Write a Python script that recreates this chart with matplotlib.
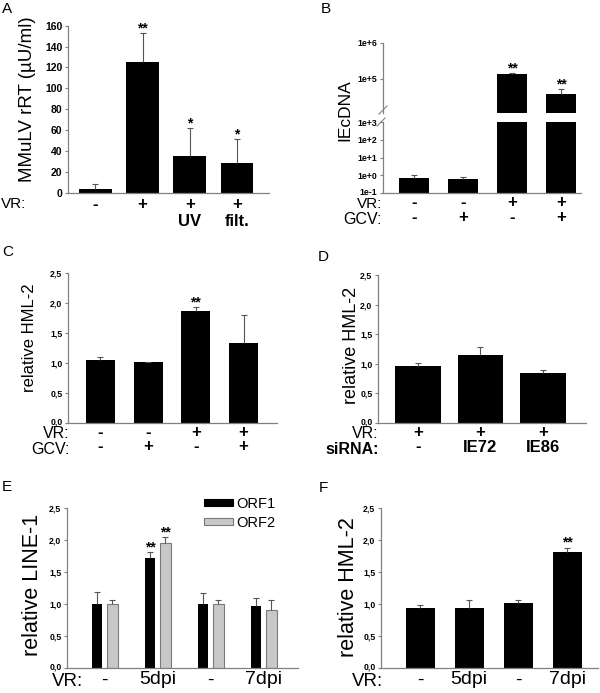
import matplotlib
matplotlib.use('Agg')
import matplotlib.pyplot as plt
import matplotlib.transforms as mtransforms
from matplotlib.patches import Patch
from matplotlib.ticker import NullLocator
import numpy as np

plt.rcParams['font.family'] = ['Liberation Sans', 'DejaVu Sans']

# ---------------- data ----------------
# Panel A
a_vals = [4, 125, 35, 28]
a_top = [8, 153, 62, 51]
a_sig = ['', '**', '*', '*']
a_vr = ['-', '+', '+', '+']
a_trt = ['', '', 'UV', 'filt.']
a_ticks = [0, 20, 40, 60, 80, 100, 120, 140, 160]

# Panel B
b_vals = [0.72, 0.6, 1.4e5, 3.8e4]
b_top = [1.0, 0.82, 1.45e5, 5.2e4]
b_sig = ['', '', '**', '**']
b_vr = ['-', '-', '+', '+']
b_gcv = ['-', '+', '-', '+']
b_ticks_low = [0.1, 1, 10, 100, 1000]
b_labels_low = ['1e-1', '1e+0', '1e+1', '1e+2', '1e+3']
b_ticks_up = [1e5, 1e6]
b_labels_up = ['1e+5', '1e+6']

# Panel C
c_vals = [1.04, 1.02, 1.87, 1.33]
c_top = [1.09, 1.02, 1.93, 1.79]
c_sig = ['', '', '**', '']
c_vr = ['-', '-', '+', '+']
c_gcv = ['-', '+', '-', '+']

# Panel D
d_vals = [0.96, 1.15, 0.84]
d_top = [1.02, 1.28, 0.89]
d_vr = ['+', '+', '+']
d_si = ['-', 'IE72', 'IE86']

# Panel E
e_orf1 = [1.0, 1.72, 1.0, 0.97]
e_orf1_top = [1.18, 1.81, 1.17, 1.10]
e_orf2 = [1.0, 1.96, 1.0, 0.91]
e_orf2_top = [1.07, 2.04, 1.07, 1.06]
e_sig1 = ['', '**', '', '']
e_sig2 = ['', '**', '', '']
e_vr = ['-', '5dpi', '-', '7dpi']
e_series = ['ORF1', 'ORF2']

# Panel F
f_vals = [0.94, 0.94, 1.01, 1.82]
f_top = [0.99, 1.06, 1.06, 1.88]
f_sig = ['', '', '', '**']
f_vr = ['-', '5dpi', '-', '7dpi']

rel_ticks = [0.0, 0.5, 1.0, 1.5, 2.0, 2.5]
rel_labels = ['0,0', '0,5', '1,0', '1,5', '2,0', '2,5']

# ---------------- layout helpers ----------------
W, H = 600, 693
fig = plt.figure(figsize=(6, 6.93), dpi=100)

def add_ax(l, t, r, b):
    return fig.add_axes([l / W, 1 - b / H, (r - l) / W, (b - t) / H])

def fy(ypx):
    return 1 - ypx / H

def fx(xpx):
    return xpx / W

SPINE = '#808080'
ECOL = '#555555'

def style(ax):
    for s in ['top', 'right']:
        ax.spines[s].set_visible(False)
    for s in ['left', 'bottom']:
        ax.spines[s].set_color(SPINE)
        ax.spines[s].set_linewidth(0.9)
    ax.set_xticks([])
    ax.tick_params(axis='y', length=2.5, width=0.8, color=SPINE, pad=1.5)

def lift_first_label(ax, px=2.0):
    lab = ax.get_yticklabels()[0]
    lab.set_transform(lab.get_transform() +
                      mtransforms.ScaledTranslation(0, px / 100, fig.dpi_scale_trans))

def bars(ax, x, vals, tops, width, color='black', edge='none', capw=5, bottom=0):
    vals = np.asarray(vals, float)
    tops = np.asarray(tops, float)
    ax.bar(x, vals - bottom, width, bottom=bottom, color=color, edgecolor=edge,
           linewidth=0.8, zorder=2)
    ax.vlines(x, vals, tops, color=ECOL, lw=0.8, zorder=3)
    ax.plot(x, tops, ls='none', marker='_', ms=capw, mew=0.8, color=ECOL, zorder=3)

def stars(ax, x, tops, sig, size=10):
    for xi, t, s in zip(x, tops, sig):
        if s:
            ax.annotate(s, (xi, t), xytext=(0, -1.5), textcoords='offset points',
                        ha='center', va='bottom', fontsize=size, fontweight='bold')

def row(ax, labels, ypx, size, weight='normal'):
    tr = mtransforms.blended_transform_factory(ax.transData, fig.transFigure)
    for xi, lab in enumerate(labels):
        ax.text(xi, fy(ypx), lab, transform=tr, ha='center', va='center',
                fontsize=size, fontweight=weight)

def rowtitle(text, xr, ypx, size, weight='normal'):
    fig.text(fx(xr), fy(ypx), text, ha='right', va='center', fontsize=size,
             fontweight=weight)

def letter(text, xpx, ypx):
    fig.text(fx(xpx), fy(ypx), text, ha='left', va='center', fontsize=11)

def ylab(text, xpx, ypx, size):
    fig.text(fx(xpx), fy(ypx), text, rotation=90, ha='center', va='center',
             fontsize=size)

# ---------------- Panel A ----------------
axA = add_ax(68, 25.7, 269, 192.7)
style(axA)
xa = np.arange(len(a_vals))
bars(axA, xa, a_vals, a_top, 0.69)
stars(axA, xa, a_top, a_sig)
axA.set_xlim(-0.58, 3.68)
axA.set_ylim(0, 160)
axA.set_yticks(a_ticks, [str(t) for t in a_ticks], fontsize=7.5, fontweight='bold')
ylab('MMuLV rRT (µU/ml)', 28, 99, 13.5)
row(axA, a_vr, 204, 12, 'bold')
row(axA, a_trt, 221, 12, 'bold')
rowtitle('VR:', 26, 204, 11)
letter('A', 2, 9)

# ---------------- Panel B (broken log axis) ----------------
axBu = add_ax(383, 42.7, 581, 113.3)
axBl = add_ax(383, 122.3, 581, 193)
xb = np.arange(len(b_vals))
for ax in (axBu, axBl):
    style(ax)
    ax.set_yscale('log')
    bars(ax, xb, b_vals, b_top, 0.61, bottom=1e-3)
    ax.set_xlim(-0.63, 3.41)
    ax.yaxis.set_minor_locator(NullLocator())
axBu.set_ylim(10 ** 4.055, 1e6)
axBl.set_ylim(0.1, 1000)
axBu.spines['bottom'].set_visible(False)
axBu.set_yticks(b_ticks_up, b_labels_up, fontsize=6.3, fontweight='bold')
axBl.set_yticks(b_ticks_low, b_labels_low, fontsize=6.3, fontweight='bold')
lift_first_label(axBl, 2.0)
stars(axBu, xb, b_top, b_sig)
ylab('IEcDNA', 345, 110, 12.5)
for (x0, y0, x1, y1) in [(379, 114, 387, 106), (377, 126, 385, 118)]:
    fig.add_artist(plt.Line2D([fx(x0), fx(x1)], [fy(y0), fy(y1)], color=SPINE, lw=0.8))
row(axBl, b_vr, 202, 12, 'bold')
row(axBl, b_gcv, 218, 12, 'bold')
rowtitle('VR:', 382, 204, 11)
rowtitle('GCV:', 382, 219, 11.5)
letter('B', 321, 9)

# ---------------- Panel C ----------------
axC = add_ax(68, 272.7, 277, 422.7)
style(axC)
xc = np.arange(len(c_vals))
bars(axC, xc, c_vals, c_top, 0.61)
stars(axC, xc, c_top, c_sig)
axC.set_xlim(-0.68, 3.70)
axC.set_ylim(0, 2.5)
axC.set_yticks(rel_ticks, rel_labels, fontsize=6.3, fontweight='bold')
lift_first_label(axC, 2.0)
ylab('relative HML-2', 30, 338, 12)
row(axC, c_vr, 432, 12, 'bold')
row(axC, c_gcv, 447, 12, 'bold')
rowtitle('VR:', 70, 434, 11.5)
rowtitle('GCV:', 70, 449, 11.5)
letter('C', 2, 252)

# ---------------- Panel D ----------------
axD = add_ax(378, 275, 586, 423)
style(axD)
xd = np.arange(len(d_vals))
bars(axD, xd, d_vals, d_top, 0.73)
axD.set_xlim(-0.64, 2.69)
axD.set_ylim(0, 2.5)
axD.set_yticks(rel_ticks, rel_labels, fontsize=6.3, fontweight='bold')
lift_first_label(axD, 2.0)
ylab('relative HML-2', 351, 345, 13)
row(axD, d_vr, 432, 12, 'bold')
row(axD, d_si, 447, 12, 'bold')
rowtitle('VR:', 379, 434, 11.5)
rowtitle('siRNA:', 379, 449, 11.5, 'bold')
letter('D', 318, 257)

# ---------------- Panel E ----------------
axE = add_ax(67, 508, 298, 668)
style(axE)
xe = np.arange(len(e_orf1))
off = 0.145
bars(axE, xe - off, e_orf1, e_orf1_top, 0.2, capw=4)
bars(axE, xe + off, e_orf2, e_orf2_top, 0.2, color='#c8c8c8', edge='#7a7a7a', capw=4)
stars(axE, xe - off, e_orf1_top, e_sig1)
stars(axE, xe + off, e_orf2_top, e_sig2)
axE.set_xlim(-0.71, 3.65)
axE.set_ylim(0, 2.5)
axE.set_yticks(rel_ticks, rel_labels, fontsize=6.3, fontweight='bold')
lift_first_label(axE, 2.0)
ylab('relative LINE-1', 32, 585, 15.5)
axE.legend(handles=[Patch(facecolor='black', edgecolor='black', lw=0.8),
                    Patch(facecolor='#c8c8c8', edgecolor='#7a7a7a', lw=0.8)],
           labels=e_series, loc='upper left', bbox_to_anchor=(fx(201), fy(494)),
           bbox_transform=fig.transFigure, frameon=False, fontsize=10.5,
           handlelength=2.0, handleheight=0.4, handletextpad=0.2,
           labelspacing=0.35, borderpad=0.2, borderaxespad=0)
row(axE, e_vr, 680, 14)
rowtitle('VR:', 83, 681.5, 13.5)
letter('E', 2, 487)

# ---------------- Panel F ----------------
axF = add_ax(381, 508, 598, 668)
style(axF)
xf = np.arange(len(f_vals))
bars(axF, xf, f_vals, f_top, 0.59)
stars(axF, xf, f_top, f_sig)
axF.set_xlim(-0.8, 3.63)
axF.set_ylim(0, 2.5)
axF.set_yticks(rel_ticks, rel_labels, fontsize=6.3, fontweight='bold')
lift_first_label(axF, 2.0)
ylab('relative HML-2', 348, 587, 15.5)
row(axF, f_vr, 680, 14)
rowtitle('VR:', 383, 681.5, 13.5)
letter('F', 319, 488)

fig.savefig('out.png', dpi=100, facecolor='white')
